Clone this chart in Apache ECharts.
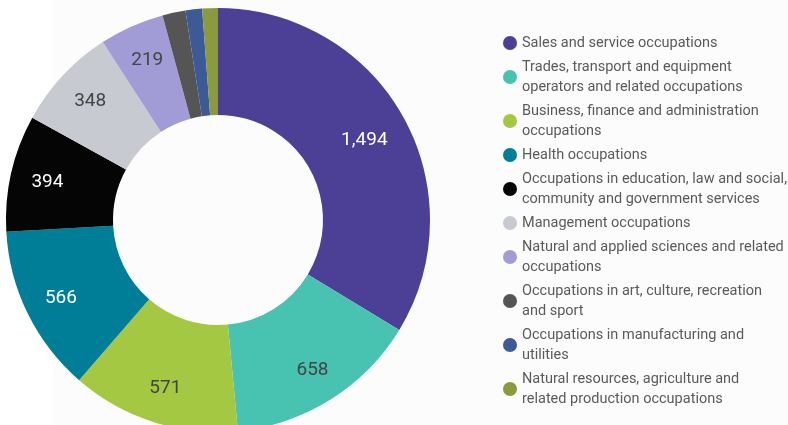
<!DOCTYPE html>
<html><head><meta charset="utf-8">
<script src="https://cdn.jsdelivr.net/npm/echarts@6/dist/echarts.min.js"></script>
<style>
html,body{margin:0;padding:0;}
body{background:linear-gradient(to right,#ffffff 0,#ffffff 53px,#fcfcfc 53px,#fcfcfc 100%);}
#c{width:788px;height:425px;}
</style></head>
<body><div id="c"></div>
<script>
const categories = [
  "Sales and service occupations",
  "Trades, transport and equipment operators and related occupations",
  "Business, finance and administration occupations",
  "Health occupations",
  "Occupations in education, law and social, community and government services",
  "Management occupations",
  "Natural and applied sciences and related occupations",
  "Occupations in art, culture, recreation and sport",
  "Occupations in manufacturing and utilities",
  "Natural resources, agriculture and related production occupations"
];
const values = [1494, 658, 571, 566, 394, 348, 219, 78, 56, 53];
const colors = ["#4b3f96","#48c3b1","#a5c843","#007e98","#050505","#c8cad2","#a29cd6","#555555","#3b5a96","#8a9a3c"];
const labelColors = ["#ffffff","#444444","#444444","#ffffff","#ffffff","#444444","#444444","#444444","#444444","#444444"];
const showLabel = [true,true,true,true,true,true,true,false,false,false];
const legendLabels = [
  "Sales and service occupations",
  "Trades, transport and equipment\noperators and related occupations",
  "Business, finance and administration\noccupations",
  "Health occupations",
  "Occupations in education, law and social,\ncommunity and government services",
  "Management occupations",
  "Natural and applied sciences and related\noccupations",
  "Occupations in art, culture, recreation\nand sport",
  "Occupations in manufacturing and\nutilities",
  "Natural resources, agriculture and\nrelated production occupations"
];

const chart = echarts.init(document.getElementById('c'));
const mainData = categories.map((n,i)=>({name:n,value:values[i],itemStyle:{color:colors[i]}}));
const labelData = categories.map((n,i)=>({
  name:n,value:values[i],
  label:{show:showLabel[i],color:labelColors[i],offset:(i===0?[-7,7]:[1,1])}
}));
chart.setOption({
  animation:false,
  legend:{
    orient:'vertical',
    left:503, top:33, height:392,
    padding:0,
    icon:'circle',
    itemWidth:14,itemHeight:14,itemGap:4,
    data:categories,
    formatter:function(name){return legendLabels[categories.indexOf(name)];},
    textStyle:{fontFamily:'Roboto',fontSize:14.5,color:'#5a5a5a',lineHeight:20,verticalAlign:'top',padding:[-10,0,10,0]}
  },
  series:[
    {
      type:'pie',
      center:[218,220],
      radius:[105,212],
      startAngle:90,
      clockwise:true,
      label:{show:false},
      labelLine:{show:false},
      emphasis:{disabled:true},
      data:mainData
    },
    {
      type:'pie',
      center:[218,220],
      radius:[134,212],
      startAngle:90,
      clockwise:true,
      silent:true,
      itemStyle:{color:'rgba(0,0,0,0)'},
      label:{show:true,position:'inside',fontFamily:'Roboto',fontSize:19,
        formatter:function(p){return p.value.toLocaleString('en-US');}},
      labelLine:{show:false},
      emphasis:{disabled:true},
      data:labelData
    }
  ]
});
</script></body></html>
